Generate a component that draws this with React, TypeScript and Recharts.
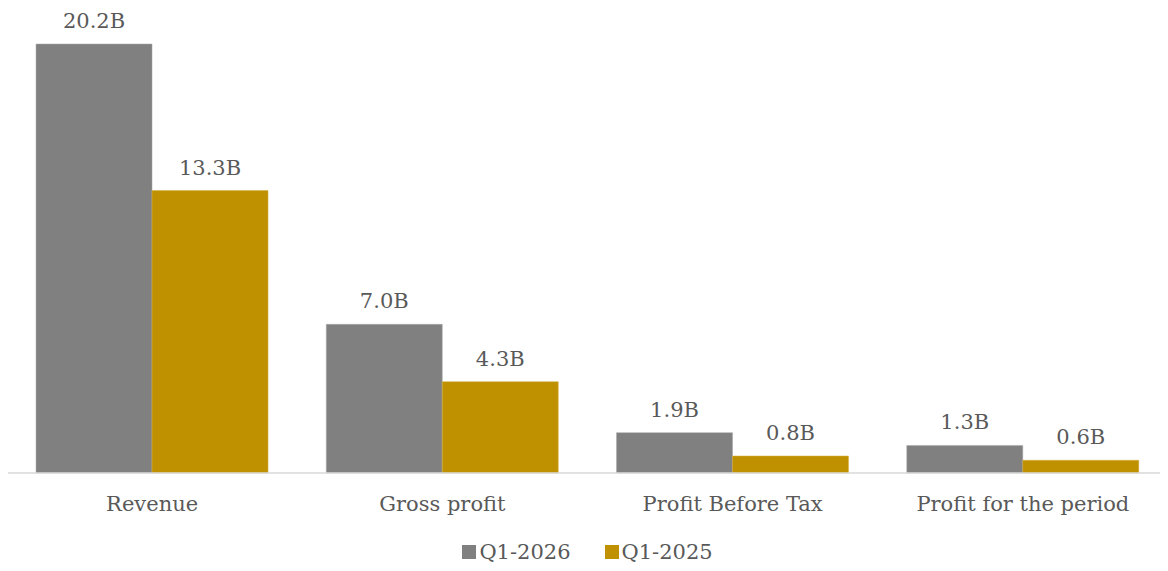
import { BarChart, Bar, XAxis, YAxis, Legend, LabelList } from "recharts";

const categories = ["Revenue", "Gross profit", "Profit Before Tax", "Profit for the period"];
const q12026 = [20.2, 7.0, 1.9, 1.3];
const q12025 = [13.3, 4.3, 0.8, 0.6];
const seriesNames = ["Q1-2026", "Q1-2025"];

const GRAY = "#808080";
const GOLD = "#BF9000";
const TEXT = "#595959";
const FONT = "'DejaVu Serif', Georgia, serif";

const data = categories.map((name, i) => ({
  name,
  a: q12026[i],
  b: q12025[i],
}));

const fmt = (v: any) => `${Number(v).toFixed(1)}B`;

function LegendContent() {
  const items = [
    { label: seriesNames[0], color: GRAY },
    { label: seriesNames[1], color: GOLD },
  ];
  return (
    <div
      style={{
        display: "flex",
        justifyContent: "center",
        gap: 34,
        fontFamily: FONT,
        fontSize: 21,
        color: TEXT,
        paddingTop: 27,
      }}
    >
      {items.map((it) => (
        <div key={it.label} style={{ display: "flex", alignItems: "center", gap: 3 }}>
          <span style={{ width: 14, height: 14, background: it.color, display: "inline-block" }} />
          <span>{it.label}</span>
        </div>
      ))}
    </div>
  );
}

export default function App() {
  return (
    <div style={{ margin: -8, background: "#fff", width: 1168, height: 571 }}>
      <BarChart
        width={1168}
        height={571}
        data={data}
        margin={{ top: 44, right: 0, bottom: 0, left: 7 }}
        barCategoryGap="10%"
        barGap={0}
      >
        <XAxis
          dataKey="name"
          tickLine={false}
          axisLine={{ stroke: "#D9D9D9", strokeWidth: 1.5 }}
          tick={{ fill: TEXT, fontFamily: FONT, fontSize: 21 }}
          tickMargin={17}
          height={40}
          interval={0}
        />
        <YAxis hide domain={[0, 20.2]} />
        <Legend verticalAlign="bottom" height={58} content={<LegendContent />} />
        <Bar dataKey="a" name={seriesNames[0]} fill={GRAY} stroke="#A6A6A6" strokeWidth={0.5} isAnimationActive={false}>
          <LabelList dataKey="a" position="top" offset={16} formatter={fmt} fill={TEXT} fontFamily={FONT} fontSize={21} />
        </Bar>
        <Bar dataKey="b" name={seriesNames[1]} fill={GOLD} stroke="#D4B040" strokeWidth={0.5} isAnimationActive={false}>
          <LabelList dataKey="b" position="top" offset={16} formatter={fmt} fill={TEXT} fontFamily={FONT} fontSize={21} />
        </Bar>
      </BarChart>
    </div>
  );
}
